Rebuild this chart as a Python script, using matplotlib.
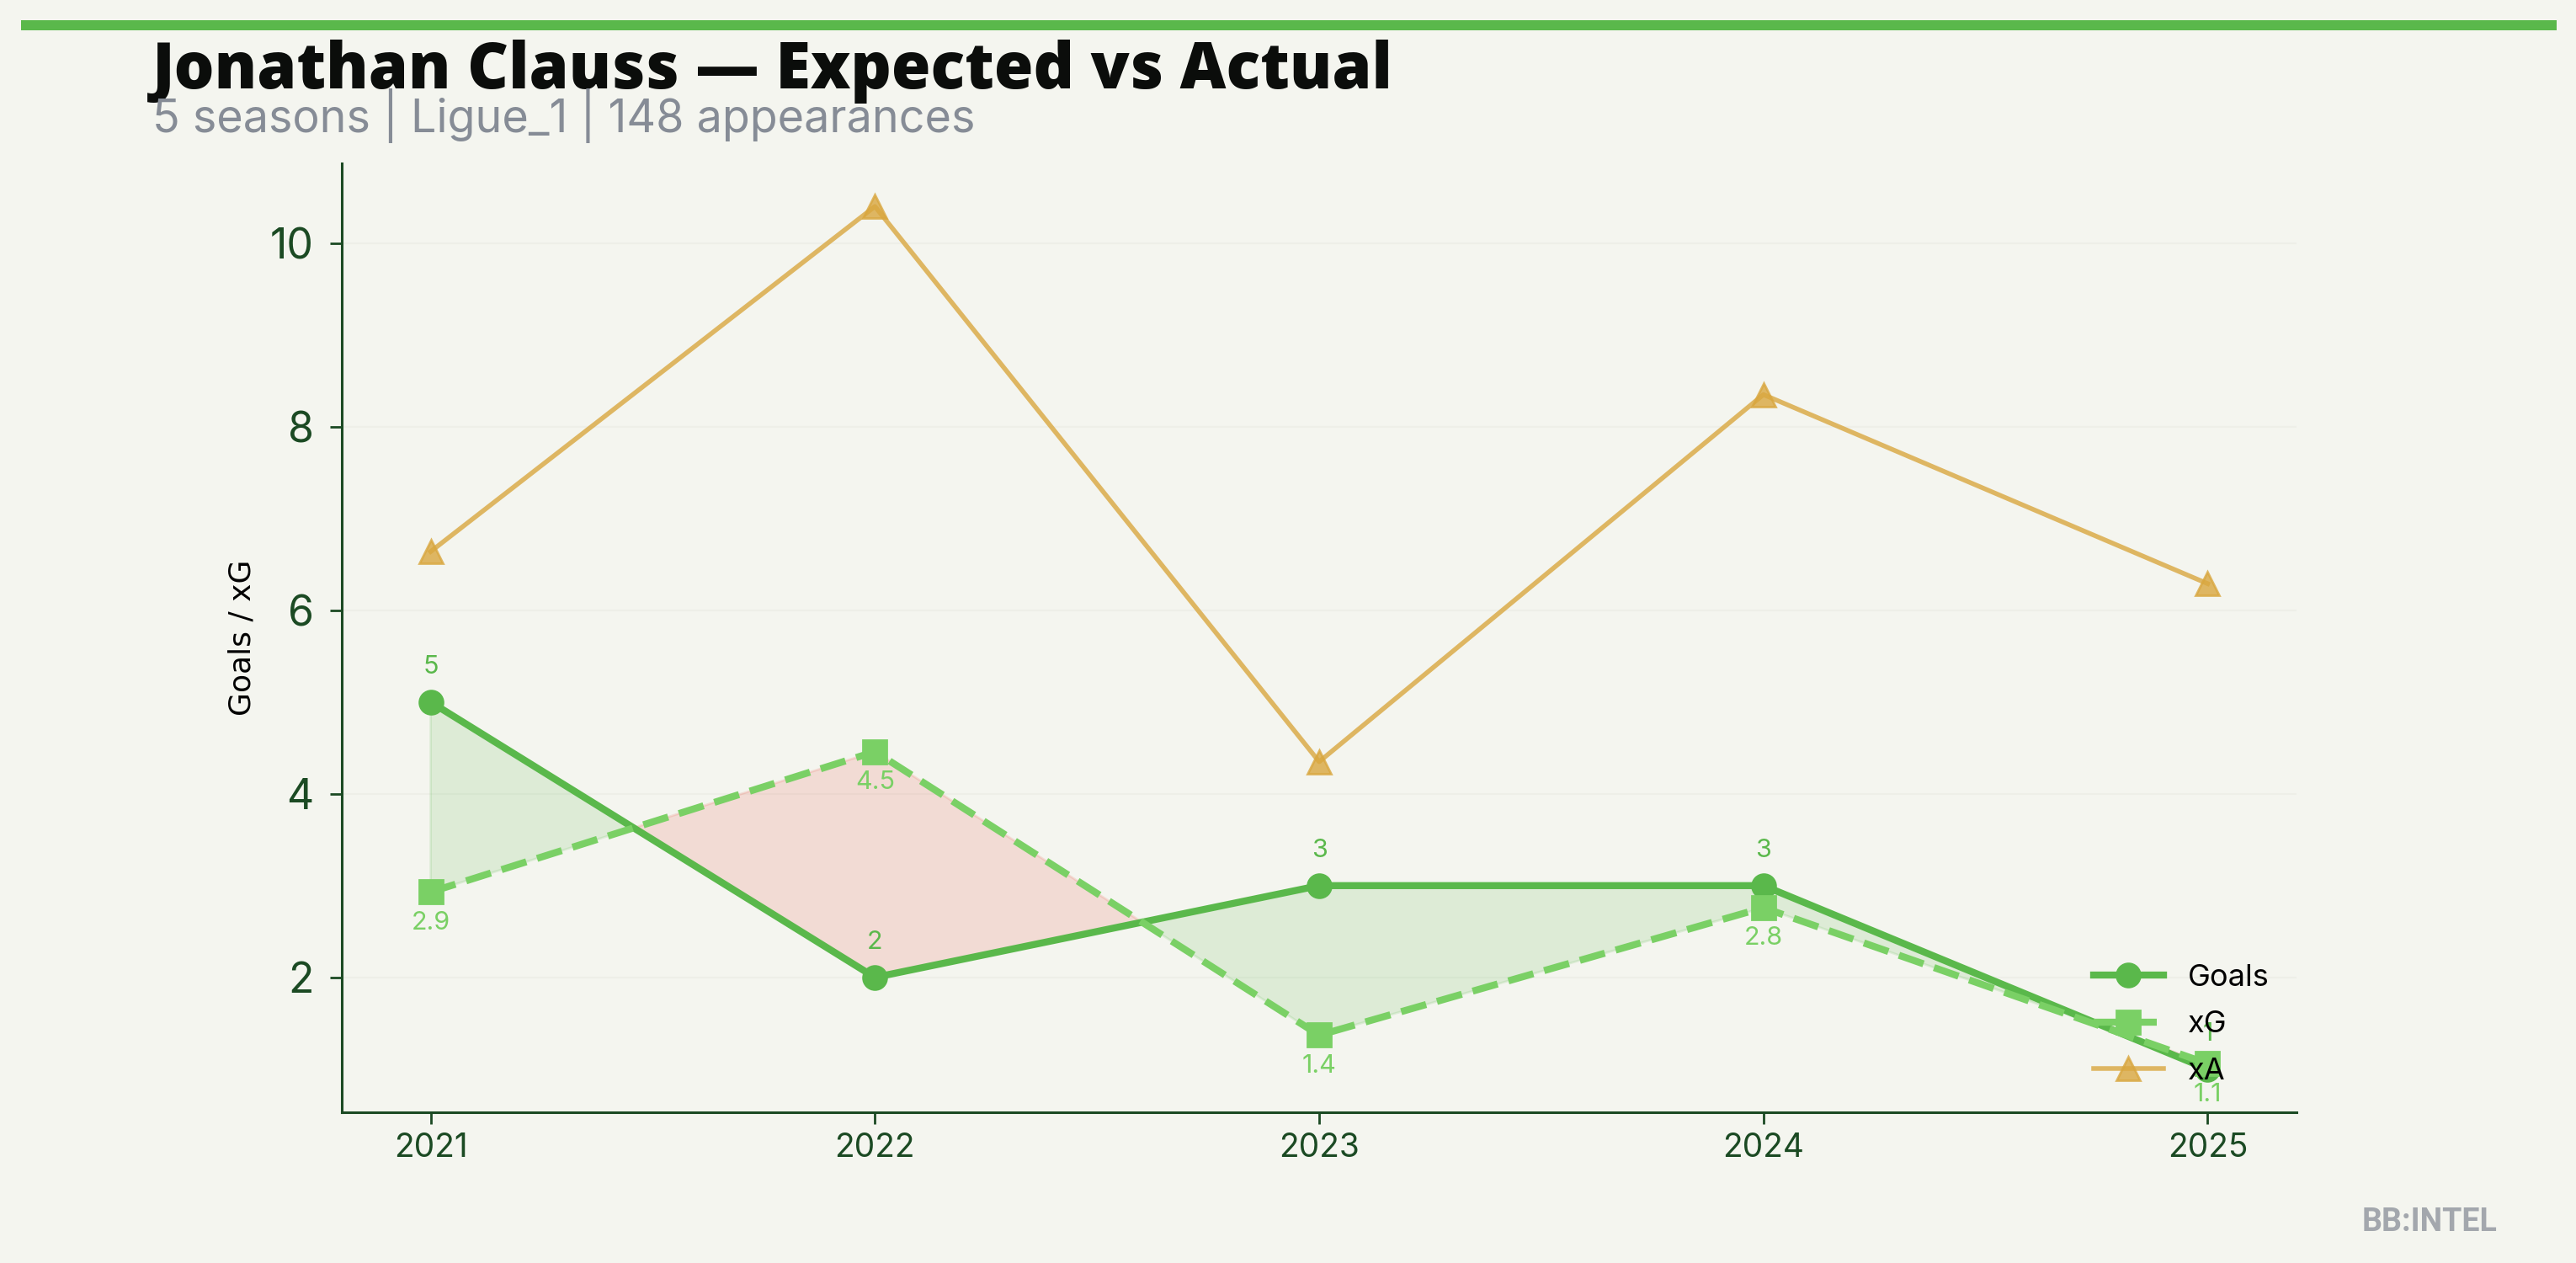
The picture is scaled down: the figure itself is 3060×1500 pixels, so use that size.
import matplotlib
matplotlib.use("Agg")
import matplotlib.pyplot as plt
import numpy as np

# ---- data ----
seasons = [2021, 2022, 2023, 2024, 2025]
goals = [5, 2, 3, 3, 1]
xg = [2.93, 4.46, 1.37, 2.76, 1.06]
xa = [6.64, 10.40, 4.35, 8.35, 6.29]
tick_labels = ["2021", "2022", "2023", "2024", "2025"]

title = "Jonathan Clauss \u2014 Expected vs Actual"
subtitle = "5 seasons | Ligue_1 | 148 appearances"
ylabel = "Goals / xG"
watermark = "BB:INTEL"

# ---- style ----
BG = "#f4f5ef"
GOALS_C = "#5ab84b"
XG_C = "#7ad065"
XA_C = "#d9a73f"
DARK = "#1b4a23"
RED = "#e74c3c"

plt.rcParams["font.family"] = ["Inter", "DejaVu Sans"]

fig = plt.figure(figsize=(15.3, 7.5), dpi=200, facecolor=BG)
ax = fig.add_axes([0.1327, 0.1193, 0.8915 - 0.1327, 0.8707 - 0.1193])
ax.set_facecolor(BG)

x = np.array(seasons, dtype=float)
g = np.array(goals, dtype=float)
e = np.array(xg, dtype=float)

ax.fill_between(x, g, e, where=g >= e, interpolate=True, color=GOALS_C, alpha=0.15, zorder=1)
ax.fill_between(x, g, e, where=g < e, interpolate=True, color=RED, alpha=0.15, zorder=1)

ax.plot(x, g, color=GOALS_C, lw=3, marker="o", markersize=10, label="Goals", zorder=4)
ax.plot(x, e, color=XG_C, lw=3, ls="--", marker="s", markersize=10, label="xG", zorder=4)
ax.plot(x, xa, color=XA_C, lw=2, marker="^", markersize=10, alpha=0.8, label="xA", zorder=3)

for xi, v in zip(x, goals):
    ax.annotate(f"{v}", (xi, v), xytext=(0, 10), textcoords="offset points",
                ha="center", va="bottom", fontsize=11, color=GOALS_C, zorder=5)
for xi, v in zip(x, xg):
    ax.annotate(f"{v:.1f}", (xi, v), xytext=(0, -8), textcoords="offset points",
                ha="center", va="top", fontsize=11, color=XG_C, zorder=5)

ax.set_xticks(x)
ax.set_xticklabels(tick_labels)
ax.tick_params(axis="x", labelsize=14, colors=DARK, length=5, width=1)
ax.tick_params(axis="y", labelsize=18, colors=DARK, length=5, width=1, pad=7)
ax.set_yticks([2, 4, 6, 8, 10])
ax.set_ylabel(ylabel, fontsize=13, family="DejaVu Sans", color="black", labelpad=6)

for s in ["top", "right"]:
    ax.spines[s].set_visible(False)
for s in ["left", "bottom"]:
    ax.spines[s].set_color(DARK)
    ax.spines[s].set_linewidth(1.1)

ax.grid(axis="y", color="#eeefe8", lw=0.8, zorder=0)
ax.set_axisbelow(True)

leg = ax.legend(loc="lower right", frameon=False, fontsize=13, handlelength=2.3,
                labelspacing=0.62)

# top bar
fig.add_artist(plt.Line2D([25 / 3060, 3037 / 3060], [0.98, 0.98], color=GOALS_C,
                          lw=12 / 200 * 72, solid_capstyle="butt", transform=fig.transFigure))

fig.text(181 / 3060, 1 - 105 / 1500, title, fontsize=27.2, fontweight=800,
         family=["Open Sans", "DejaVu Sans"], color="#0b0d0b", ha="left", va="baseline")
fig.text(181 / 3060, 1 - 157 / 1500, subtitle, fontsize=19.4, color="#868c96",
         ha="left", va="baseline")
fig.text(2967 / 3060, 1 - 1462 / 1500, watermark, fontsize=13.5, fontweight="bold",
         family=["Roboto", "DejaVu Sans"], color="#a3a7ad", ha="right", va="baseline")

fig.savefig("out.png", dpi=200, facecolor=BG)
